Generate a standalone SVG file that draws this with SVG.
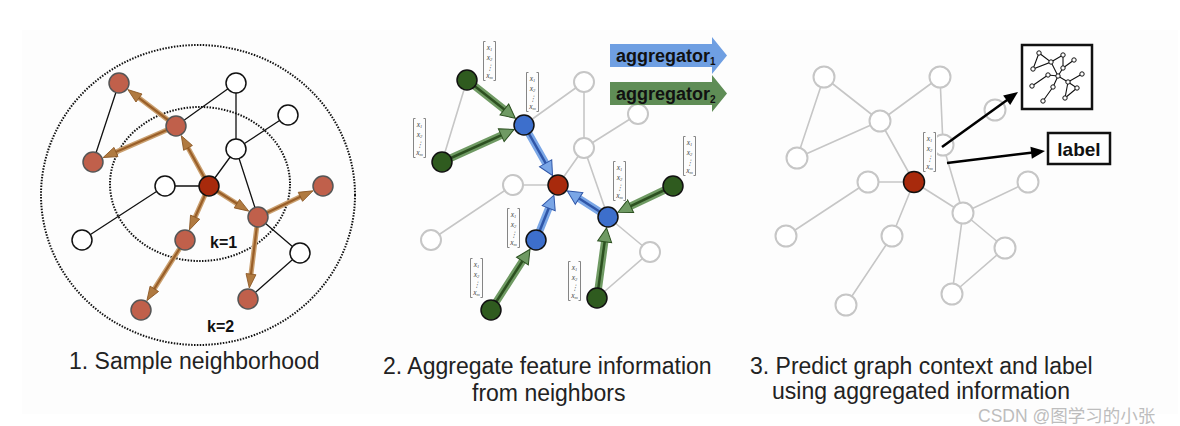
<svg xmlns="http://www.w3.org/2000/svg" width="1180" height="426" viewBox="0 0 1180 426">
<style>
.cap{font-family:"Liberation Sans",Arial,sans-serif;font-size:23px;fill:#222}
.bt{font-family:"Liberation Sans",Arial,sans-serif;font-weight:bold;fill:#111}
.e1{stroke:#111;stroke-width:1.3;fill:none}
.eg{stroke:#c6c6c6;stroke-width:1.6;fill:none}
.nw{fill:#fff;stroke:#111;stroke-width:1.5}
.nr{fill:#c0604b;stroke:#555;stroke-width:1.5}
.nc{fill:#a82a0c;stroke:#111;stroke-width:1.5}
.ng{fill:#fff;stroke:#c6c6c6;stroke-width:2}
.ngr{fill:#2f5b1f;stroke:#111;stroke-width:1.5}
.nb{fill:#3d6fcc;stroke:#111;stroke-width:1.5}
.brO{stroke:#caa070;stroke-width:5;fill:none}
.brI{stroke:#9a5f28;stroke-width:2.2;fill:none;marker-end:url(#mBr)}
.gO{stroke:#6f9a63;stroke-width:7.5;fill:none}
.gI{stroke:#2c5020;stroke-width:2.5;fill:none;marker-end:url(#mG)}
.bO{stroke:#7aa6e6;stroke-width:7.5;fill:none}
.bI{stroke:#2f56a8;stroke-width:2.5;fill:none;marker-end:url(#mB)}
.kA{stroke:#000;stroke-width:2.5;fill:none;marker-end:url(#mK)}
.vec text{font-family:"Liberation Serif","DejaVu Serif",serif;font-style:italic;font-size:7.5px;fill:#444;text-anchor:middle}
.vec rect{fill:#fdfdfd}
.br{fill:none;stroke:#777;stroke-width:0.9}
.mn{fill:#fff;stroke:#111;stroke-width:1}
.me{stroke:#111;stroke-width:1.1;fill:none}
</style>
<defs>
<marker id="mBr" markerUnits="userSpaceOnUse" markerWidth="14" markerHeight="10" refX="4" refY="5" orient="auto" overflow="visible"><path d="M0,0 L14,5 L0,10 z" fill="#b07a40" stroke="#8a5522" stroke-width="0.8"/></marker>
<marker id="mG" markerUnits="userSpaceOnUse" markerWidth="14" markerHeight="14" refX="4" refY="7" orient="auto" overflow="visible"><path d="M0,0 L14,7 L0,14 z" fill="#6f9a63" stroke="#2c5020" stroke-width="1"/></marker>
<marker id="mB" markerUnits="userSpaceOnUse" markerWidth="14" markerHeight="14" refX="4" refY="7" orient="auto" overflow="visible"><path d="M0,0 L14,7 L0,14 z" fill="#7aa6e6" stroke="#2f56a8" stroke-width="1"/></marker>
<marker id="mK" markerUnits="userSpaceOnUse" markerWidth="14" markerHeight="12" refX="4" refY="6" orient="auto" overflow="visible"><path d="M0,0 L14,6 L0,12 z" fill="#000"/></marker>
</defs>
<rect x="0" y="0" width="1180" height="426" fill="#fff"/>
<rect x="22" y="30" width="1156" height="384" fill="#fdfdfd"/>

<!-- panel 1 neighbourhood rings -->
<g id="rings" fill="none" stroke="#111" stroke-width="2" stroke-dasharray="1.5 1.4">
<ellipse cx="198" cy="195" rx="157" ry="150"/>
<ellipse cx="200" cy="184" rx="90" ry="77"/>
</g>

<g id="connectors">
<!-- panel 1 edges -->
<path class="e1" d="M119,83 L93,162 M176,126 L236,83 M236,83 L236,149 M236,149 L288,115 M236,149 L209,186 M236,149 L258,217 M165,186 L209,186 M165,186 L82,240 M258,217 L300,253 M300,253 L248,299"/>
<!-- panel 1 sampling arrows -->
<path class="brO" d="M176,126 L135.8,95.6 M176,126 L112.3,153.6 M209,186 L186.1,144.4 M209,186 L240.3,205.8 M209,186 L193.5,220.8 M258,217 L304,195.1 M258,217 L250.5,278.1 M185,240 L152.2,292.2"/>
<path class="brI" d="M176,126 L135.8,95.6"/>
<path class="brI" d="M176,126 L112.3,153.6"/>
<path class="brI" d="M209,186 L186.1,144.4"/>
<path class="brI" d="M209,186 L240.3,205.8"/>
<path class="brI" d="M209,186 L193.5,220.8"/>
<path class="brI" d="M258,217 L304,195.1"/>
<path class="brI" d="M258,217 L250.5,278.1"/>
<path class="brI" d="M185,240 L152.2,292.2"/>
<!-- panel 2 edges -->
<path class="eg" d="M467,80 L442,162 M524,125 L584,82 M584,82 L584,148 M584,148 L638,114 M584,148 L558,185 M584,148 L608,217 M513,185 L558,185 M513,185 L431,240 M608,217 L650,252 M650,252 L597,298"/>
<!-- panel 2 aggregation arrows -->
<path class="gO" d="M467,80 L507.5,112 M442,162 L504.9,133.6 M673,186 L627,207.9 M597,298 L605.2,237.8 M491,310 L524.6,257.7"/>
<path class="gI" d="M467,80 L507.5,112"/>
<path class="gI" d="M442,162 L504.9,133.6"/>
<path class="gI" d="M673,186 L627,207.9"/>
<path class="gI" d="M597,298 L605.2,237.8"/>
<path class="gI" d="M491,310 L524.6,257.7"/>
<path class="bO" d="M524,125 L547.6,166.7 M536,240 L550.2,204.5 M608,217 L575.7,196.3"/>
<path class="bI" d="M524,125 L547.6,166.7"/>
<path class="bI" d="M536,240 L550.2,204.5"/>
<path class="bI" d="M608,217 L575.7,196.3"/>
<!-- panel 3 edges -->
<path class="eg" d="M824,77 L880,121 M824,77 L797,158 M797,158 L880,121 M880,121 L940,77 M940,77 L943,145 M943,145 L995,110 M880,121 L914,182 M943,145 L963,213 M868,182 L914,182 M868,182 L786,236 M914,182 L892,236 M892,236 L846,305 M914,182 L963,213 M963,213 L1028,182 M963,213 L1005,248 M963,213 L952,294 M1005,248 L952,294"/>
</g>

<!-- panel 1 nodes -->
<g id="p1-w1"><circle class="nw" cx="236" cy="83" r="10"/></g>
<g id="p1-w2"><circle class="nw" cx="288" cy="115" r="10"/></g>
<g id="p1-w3"><circle class="nw" cx="236" cy="149" r="10"/></g>
<g id="p1-w4"><circle class="nw" cx="165" cy="186" r="10"/></g>
<g id="p1-w5"><circle class="nw" cx="82" cy="240" r="10"/></g>
<g id="p1-w6"><circle class="nw" cx="300" cy="253" r="10"/></g>
<g id="p1-r1"><circle class="nr" cx="119" cy="83" r="10"/></g>
<g id="p1-r2"><circle class="nr" cx="176" cy="126" r="10"/></g>
<g id="p1-r3"><circle class="nr" cx="93" cy="162" r="10"/></g>
<g id="p1-r4"><circle class="nr" cx="258" cy="217" r="10"/></g>
<g id="p1-r5"><circle class="nr" cx="323" cy="186" r="10"/></g>
<g id="p1-r6"><circle class="nr" cx="185" cy="240" r="10"/></g>
<g id="p1-r7"><circle class="nr" cx="141" cy="310" r="10"/></g>
<g id="p1-r8"><circle class="nr" cx="248" cy="299" r="10"/></g>
<g id="p1-c"><circle class="nc" cx="209" cy="186" r="10"/></g>
<text class="bt" x="210" y="248" font-size="16">k=1</text>
<text class="bt" x="207" y="332" font-size="16">k=2</text>

<!-- panel 2 nodes -->
<g id="p2-g1"><circle class="ng" cx="584" cy="82" r="10"/></g>
<g id="p2-g2"><circle class="ng" cx="638" cy="114" r="10"/></g>
<g id="p2-g3"><circle class="ng" cx="584" cy="148" r="10"/></g>
<g id="p2-g4"><circle class="ng" cx="513" cy="185" r="10"/></g>
<g id="p2-g5"><circle class="ng" cx="431" cy="240" r="10"/></g>
<g id="p2-g6"><circle class="ng" cx="650" cy="252" r="10"/></g>
<g id="p2-gr1"><circle class="ngr" cx="467" cy="80" r="10"/></g>
<g id="p2-gr2"><circle class="ngr" cx="442" cy="162" r="10"/></g>
<g id="p2-gr3"><circle class="ngr" cx="673" cy="186" r="10"/></g>
<g id="p2-gr4"><circle class="ngr" cx="597" cy="298" r="10"/></g>
<g id="p2-gr5"><circle class="ngr" cx="491" cy="310" r="10"/></g>
<g id="p2-b1"><circle class="nb" cx="524" cy="125" r="10"/></g>
<g id="p2-b2"><circle class="nb" cx="536" cy="240" r="10"/></g>
<g id="p2-b3"><circle class="nb" cx="608" cy="217" r="10"/></g>
<g id="p2-c"><circle class="nc" cx="558" cy="185" r="10"/></g>

<!-- feature vectors -->
<g class="vec" transform="translate(482,41)"><rect width="15" height="40"/><path class="br" d="M3.5,0.5H1.5V39.5H3.5M11.5,0.5H13.5V39.5H11.5"/><text x="7.5" y="8.5">x<tspan font-size="4.5" dy="1.5">1</tspan></text><text x="7.5" y="18.5">x<tspan font-size="4.5" dy="1.5">2</tspan></text><text x="7.5" y="28.5">⋮</text><text x="7.5" y="36.5">x<tspan font-size="4.5" dy="1.5">m</tspan></text></g>
<g class="vec" transform="translate(525,72)"><rect width="15" height="40"/><path class="br" d="M3.5,0.5H1.5V39.5H3.5M11.5,0.5H13.5V39.5H11.5"/><text x="7.5" y="8.5">x<tspan font-size="4.5" dy="1.5">1</tspan></text><text x="7.5" y="18.5">x<tspan font-size="4.5" dy="1.5">2</tspan></text><text x="7.5" y="28.5">⋮</text><text x="7.5" y="36.5">x<tspan font-size="4.5" dy="1.5">m</tspan></text></g>
<g class="vec" transform="translate(412,118)"><rect width="15" height="40"/><path class="br" d="M3.5,0.5H1.5V39.5H3.5M11.5,0.5H13.5V39.5H11.5"/><text x="7.5" y="8.5">x<tspan font-size="4.5" dy="1.5">1</tspan></text><text x="7.5" y="18.5">x<tspan font-size="4.5" dy="1.5">2</tspan></text><text x="7.5" y="28.5">⋮</text><text x="7.5" y="36.5">x<tspan font-size="4.5" dy="1.5">m</tspan></text></g>
<g class="vec" transform="translate(682,136)"><rect width="15" height="40"/><path class="br" d="M3.5,0.5H1.5V39.5H3.5M11.5,0.5H13.5V39.5H11.5"/><text x="7.5" y="8.5">x<tspan font-size="4.5" dy="1.5">1</tspan></text><text x="7.5" y="18.5">x<tspan font-size="4.5" dy="1.5">2</tspan></text><text x="7.5" y="28.5">⋮</text><text x="7.5" y="36.5">x<tspan font-size="4.5" dy="1.5">m</tspan></text></g>
<g class="vec" transform="translate(612,161)"><rect width="15" height="40"/><path class="br" d="M3.5,0.5H1.5V39.5H3.5M11.5,0.5H13.5V39.5H11.5"/><text x="7.5" y="8.5">x<tspan font-size="4.5" dy="1.5">1</tspan></text><text x="7.5" y="18.5">x<tspan font-size="4.5" dy="1.5">2</tspan></text><text x="7.5" y="28.5">⋮</text><text x="7.5" y="36.5">x<tspan font-size="4.5" dy="1.5">m</tspan></text></g>
<g class="vec" transform="translate(506,208)"><rect width="15" height="40"/><path class="br" d="M3.5,0.5H1.5V39.5H3.5M11.5,0.5H13.5V39.5H11.5"/><text x="7.5" y="8.5">x<tspan font-size="4.5" dy="1.5">1</tspan></text><text x="7.5" y="18.5">x<tspan font-size="4.5" dy="1.5">2</tspan></text><text x="7.5" y="28.5">⋮</text><text x="7.5" y="36.5">x<tspan font-size="4.5" dy="1.5">m</tspan></text></g>
<g class="vec" transform="translate(469,258)"><rect width="15" height="40"/><path class="br" d="M3.5,0.5H1.5V39.5H3.5M11.5,0.5H13.5V39.5H11.5"/><text x="7.5" y="8.5">x<tspan font-size="4.5" dy="1.5">1</tspan></text><text x="7.5" y="18.5">x<tspan font-size="4.5" dy="1.5">2</tspan></text><text x="7.5" y="28.5">⋮</text><text x="7.5" y="36.5">x<tspan font-size="4.5" dy="1.5">m</tspan></text></g>
<g class="vec" transform="translate(567,261)"><rect width="15" height="40"/><path class="br" d="M3.5,0.5H1.5V39.5H3.5M11.5,0.5H13.5V39.5H11.5"/><text x="7.5" y="8.5">x<tspan font-size="4.5" dy="1.5">1</tspan></text><text x="7.5" y="18.5">x<tspan font-size="4.5" dy="1.5">2</tspan></text><text x="7.5" y="28.5">⋮</text><text x="7.5" y="36.5">x<tspan font-size="4.5" dy="1.5">m</tspan></text></g>

<!-- aggregator legend arrows -->
<g id="agg1"><polygon points="610,44 712,44 712,37 727,55.5 712,74 712,67 610,67" fill="#6f9fe2"/><text class="bt" x="616" y="62" font-size="18">aggregator<tspan font-size="10" dy="3">1</tspan></text></g>
<g id="agg2"><polygon points="610,82 712,82 712,75 727,93.5 712,112 712,105 610,105" fill="#5f8d56"/><text class="bt" x="616" y="100" font-size="18">aggregator<tspan font-size="10" dy="3">2</tspan></text></g>

<!-- panel 3 nodes -->
<g id="p3-n1"><circle class="ng" cx="824" cy="77" r="10.5"/></g>
<g id="p3-n2"><circle class="ng" cx="940" cy="77" r="10.5"/></g>
<g id="p3-n3"><circle class="ng" cx="880" cy="121" r="10.5"/></g>
<g id="p3-n4"><circle class="ng" cx="797" cy="158" r="10.5"/></g>
<g id="p3-n5"><circle class="ng" cx="943" cy="145" r="10.5"/></g>
<g id="p3-n6"><circle class="ng" cx="995" cy="110" r="10.5"/></g>
<g id="p3-n7"><circle class="ng" cx="868" cy="182" r="10.5"/></g>
<g id="p3-n8"><circle class="ng" cx="1028" cy="182" r="10.5"/></g>
<g id="p3-n9"><circle class="ng" cx="786" cy="236" r="10.5"/></g>
<g id="p3-n10"><circle class="ng" cx="892" cy="236" r="10.5"/></g>
<g id="p3-n11"><circle class="ng" cx="963" cy="213" r="10.5"/></g>
<g id="p3-n12"><circle class="ng" cx="1005" cy="248" r="10.5"/></g>
<g id="p3-n13"><circle class="ng" cx="846" cy="305" r="10.5"/></g>
<g id="p3-n14"><circle class="ng" cx="952" cy="294" r="10.5"/></g>
<g id="p3-c"><circle class="nc" cx="914" cy="182" r="10.5"/></g>
<g class="vec" transform="translate(922,132)"><rect width="15" height="40"/><path class="br" d="M3.5,0.5H1.5V39.5H3.5M11.5,0.5H13.5V39.5H11.5"/><text x="7.5" y="8.5">x<tspan font-size="4.5" dy="1.5">1</tspan></text><text x="7.5" y="18.5">x<tspan font-size="4.5" dy="1.5">2</tspan></text><text x="7.5" y="28.5">⋮</text><text x="7.5" y="36.5">x<tspan font-size="4.5" dy="1.5">m</tspan></text></g>
<g id="pred-arrows">
<path class="kA" d="M942,147 L1009.9,97.9"/>
<path class="kA" d="M947,163 L1035.1,152.2"/>
</g>

<!-- graph context box -->
<g id="graph-box">
<rect x="1022" y="45" width="70" height="64" fill="#fff" stroke="#111" stroke-width="2.5"/>
<path class="me" d="M1039,53 L1033,69 L1051,62 Z M1051,62 L1063,55 L1063,68 M1074,60 L1063,68 M1051,62 L1058,76 M1063,68 L1058,76 M1048,75 L1058,76 L1068,82 M1082,74 L1068,82 L1077,88 L1065,98 L1068,82 M1032,86 L1048,75 M1053,87 L1058,76 M1053,87 L1043,101"/>
<g class="mn">
<circle cx="1039" cy="53" r="2.2"/><circle cx="1063" cy="55" r="2.2"/><circle cx="1051" cy="62" r="2.2"/><circle cx="1033" cy="69" r="2.2"/><circle cx="1074" cy="60" r="2.2"/><circle cx="1063" cy="68" r="2.2"/><circle cx="1048" cy="75" r="2.2"/><circle cx="1058" cy="76" r="2.2"/><circle cx="1082" cy="74" r="2.2"/><circle cx="1032" cy="86" r="2.2"/><circle cx="1053" cy="87" r="2.2"/><circle cx="1068" cy="82" r="2.2"/><circle cx="1077" cy="88" r="2.2"/><circle cx="1065" cy="98" r="2.2"/><circle cx="1043" cy="101" r="2.2"/>
</g>
</g>
<g id="label-box">
<rect x="1048" y="133" width="62" height="31" fill="#fff" stroke="#111" stroke-width="2.5"/>
<text class="bt" x="1079" y="156" font-size="19" text-anchor="middle">label</text>
</g>

<!-- captions -->
<text class="cap" x="69" y="369">1. Sample neighborhood</text>
<text class="cap" x="383" y="374">2. Aggregate feature information</text>
<text class="cap" x="472" y="401">from neighbors</text>
<text class="cap" x="750" y="374">3. Predict graph context and label</text>
<text class="cap" x="772" y="399">using aggregated information</text>
<text x="978" y="422" font-family="'Liberation Sans','Noto Sans CJK SC',sans-serif" font-size="17.5" fill="#bdbdbd">CSDN @图学习的小张</text>
</svg>
